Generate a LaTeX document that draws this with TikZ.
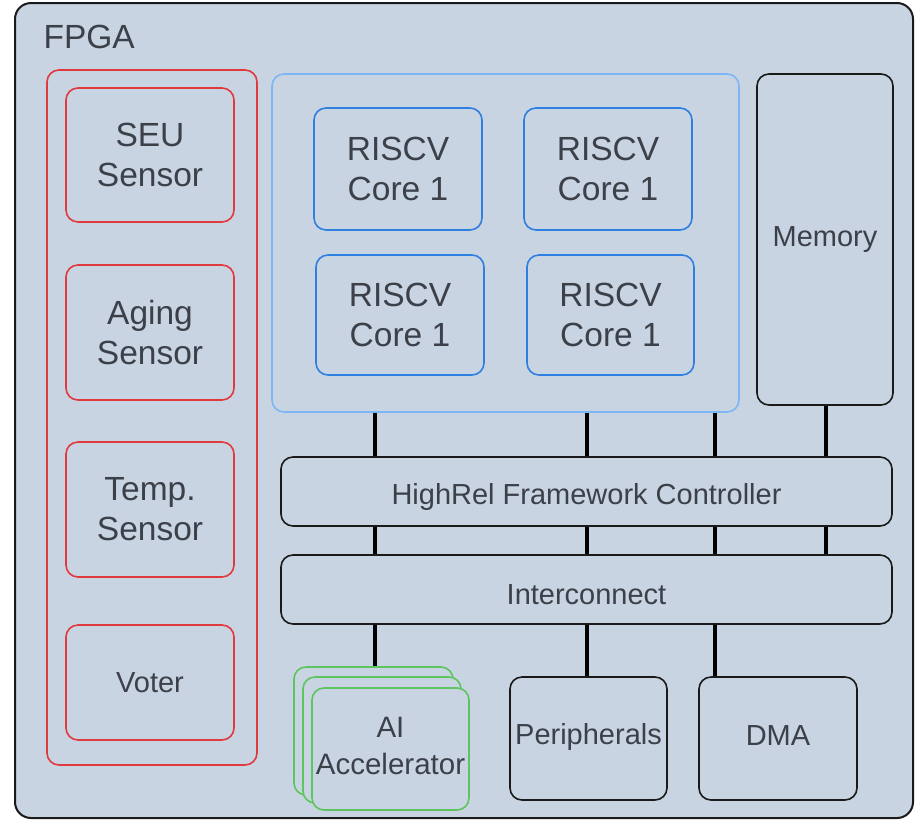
\documentclass[tikz,border=0pt]{standalone}
\usepackage{fontspec}
\setmainfont{Liberation Sans}
\definecolor{bgfill}{HTML}{C9D4E2}
\definecolor{txt}{HTML}{3B4049}
\definecolor{redc}{HTML}{E0393E}
\definecolor{bluec}{HTML}{2F7FE0}
\definecolor{lblue}{HTML}{7DB6F5}
\definecolor{greenc}{HTML}{5DC55D}
\definecolor{edge}{HTML}{1A1A1A}
\begin{document}
\begin{tikzpicture}[x=1pt,y=-1pt,
  base/.style={rectangle, rounded corners=12pt, line width=1.6pt, inner sep=0pt, text=txt, align=center},
  redbox/.style={base, draw=redc},
  bluebox/.style={base, draw=bluec},
  blackbox/.style={base, draw=edge},
  greenbox/.style={base, draw=greenc, fill=bgfill},
  label/.style={inner sep=0pt, text=txt, align=center},
  bigtext/.style={font=\fontsize{33.5}{40}\selectfont},
  aitext/.style={font=\fontsize{29.5}{37}\selectfont},
  midtext/.style={font=\fontsize{29}{34}\selectfont},
  link/.style={line width=4.5pt, draw=black}]
\useasboundingbox (0,0) rectangle (915,820);
\fill[white] (0,0) rectangle (915,820);
% FPGA frame
\node[base, draw=edge, fill=bgfill, rounded corners=16pt, line width=2pt, minimum width=898pt, minimum height=815pt] (fpga) at (464,410.5) {};
\node[anchor=west, text=txt, font=\fontsize{33.5}{36}\selectfont] (fpgat) at (40,37) {FPGA};
% sensors
\node[redbox, minimum width=210pt, minimum height=695pt] (redg) at (152,417.5) {};
\node[redbox, bigtext, minimum width=168pt, minimum height=134pt] (seu) at (150,155) {SEU\\Sensor};
\node[redbox, bigtext, minimum width=168pt, minimum height=135pt] (aging) at (150,332.5) {Aging\\Sensor};
\node[redbox, bigtext, minimum width=168pt, minimum height=135pt] (temp) at (150,509.5) {Temp.\\Sensor};
\node[redbox, midtext, minimum width=168pt, minimum height=115pt] (voter) at (150,682.5) {Voter};
% cores
\node[base, draw=lblue, minimum width=467pt, minimum height=338pt] (cores) at (505.5,243) {};
\node[bluebox, bigtext, minimum width=168pt, minimum height=122pt] (c1) at (398,169) {RISCV\\Core 1};
\node[bluebox, bigtext, minimum width=168pt, minimum height=122pt] (c2) at (608,169) {RISCV\\Core 1};
\node[bluebox, bigtext, minimum width=168pt, minimum height=120pt] (c3) at (400,315) {RISCV\\Core 1};
\node[bluebox, bigtext, minimum width=167pt, minimum height=120pt] (c4) at (610.5,315) {RISCV\\Core 1};
% memory
\node[blackbox, midtext, minimum width=136pt, minimum height=331pt] (mem) at (825,239.5) {Memory};
% buses
\node[blackbox, minimum width=611pt, minimum height=69pt] (hrc) at (586.5,491.5) {};
\node[label, midtext] (hrct) at ([yshift=-5pt]hrc.center) {HighRel Framework Controller};
\node[blackbox, minimum width=611pt, minimum height=69pt] (ic) at (586.5,589.5) {};
\node[label, midtext] (ict) at ([yshift=-5pt]ic.center) {Interconnect};
% bottom blocks
\node[greenbox, minimum width=159pt, minimum height=128pt] (ai3) at (373.5,731) {};
\node[greenbox, minimum width=158pt, minimum height=126pt] (ai2) at (382,740) {};
\node[greenbox, minimum width=157pt, minimum height=122pt] (ai1) at (390.5,749) {};
\node[label, aitext] (ait) at ([yshift=3pt]ai1.center) {AI\\Accelerator};
\node[blackbox, minimum width=157pt, minimum height=123pt] (per) at (588.5,738.5) {};
\node[label, midtext] (pert) at ([yshift=2pt]per.center) {Peripherals};
\node[blackbox, minimum width=158pt, minimum height=123pt] (dma) at (778,738.5) {};
\node[label, midtext] (dmat) at ([yshift=3pt]dma.center) {DMA};
% connector x positions
\coordinate (xa) at (375,0);
\coordinate (xb) at (587,0);
\coordinate (xc) at (715,0);
\coordinate (xd) at (826,0);
\draw[link] (cores.south -| xa) -- (hrc.north -| xa);
\draw[link] (cores.south -| xb) -- (hrc.north -| xb);
\draw[link] (cores.south -| xc) -- (hrc.north -| xc);
\draw[link] (mem.south -| xd) -- (hrc.north -| xd);
\draw[link] (hrc.south -| xa) -- (ic.north -| xa);
\draw[link] (hrc.south -| xb) -- (ic.north -| xb);
\draw[link] (hrc.south -| xc) -- (ic.north -| xc);
\draw[link] (hrc.south -| xd) -- (ic.north -| xd);
\draw[link] (ic.south -| xa) -- (ai3.north -| xa);
\draw[link] (ic.south -| xb) -- (per.north -| xb);
\draw[link] (ic.south -| xc) -- (dma.north -| xc);
\end{tikzpicture}
\end{document}
